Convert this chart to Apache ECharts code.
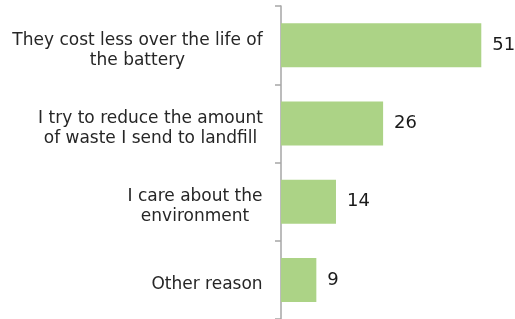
<!DOCTYPE html>
<html>
<head>
<meta charset="utf-8">
<script src="https://cdn.jsdelivr.net/npm/echarts@6/dist/echarts.min.js"></script>
<style>
  html, body { margin: 0; padding: 0; background: #fff; }
  #chart { width: 515px; height: 319px; }
</style>
</head>
<body>
<div id="chart"></div>
<script>
// reasons, top to bottom (line breaks as in the original)
const categories = [
  'They cost less over the life of\nthe battery',
  'I try to reduce the amount\nof waste I send to landfill',
  'I care about the\nenvironment',
  'Other reason'
];
const values = [51, 26, 14, 9];

const labelFont = '17px "DejaVu Sans"';

// lines inside a label are centred, the label block itself sits right of the axis
const ctx = document.createElement('canvas').getContext('2d');
ctx.font = labelFont;
const rich = {};
categories.forEach((c, i) => {
  const w = Math.max(...c.split('\n').map(l => ctx.measureText(l).width));
  rich['c' + i] = { width: Math.ceil(w), align: 'center', lineHeight: 20 };
});

const chart = echarts.init(document.getElementById('chart'));

chart.setOption({
  animation: false,
  grid: { left: 281, right: 18, top: 6, bottom: 0 },
  xAxis: {
    type: 'value',
    min: 0,
    max: 55,
    show: false
  },
  yAxis: {
    type: 'category',
    inverse: true,
    data: categories,
    axisLine: { show: true, lineStyle: { color: '#a6a6a6', width: 1.5 } },
    axisTick: { show: true, length: 6, lineStyle: { color: '#a6a6a6', width: 1.5 } },
    axisLabel: {
      margin: 18,
      color: '#262626',
      fontFamily: 'DejaVu Sans',
      fontSize: 17,
      lineHeight: 20,
      align: 'right',
      padding: [10, 0, 0, 0],
      rich: rich,
      formatter: (val, idx) =>
        val.split('\n').map(l => '{c' + idx + '|' + l + '}').join('\n')
    }
  },
  series: [
    {
      type: 'bar',
      data: values,
      barWidth: 44,
      itemStyle: { color: '#acd386' },
      label: {
        show: true,
        position: 'right',
        distance: 11,
        color: '#1a1a1a',
        fontFamily: 'DejaVu Sans',
        fontSize: 18,
        padding: [6, 0, 0, 0]
      }
    }
  ]
});
</script>
</body>
</html>
